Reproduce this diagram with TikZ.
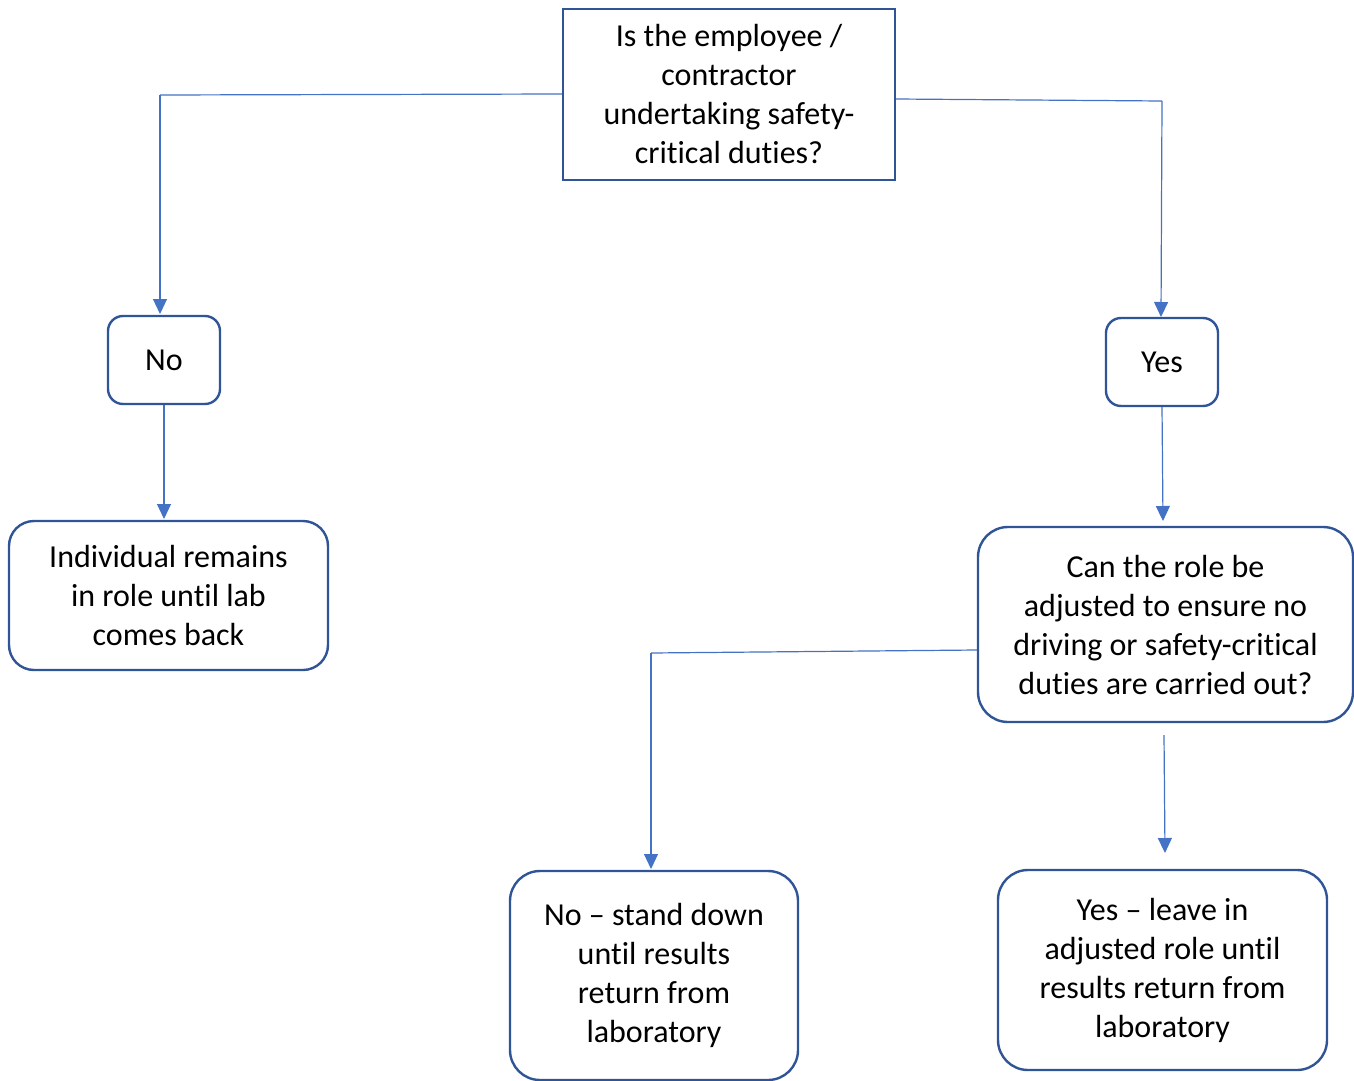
\documentclass[tikz,border=0pt]{standalone}
\usepackage{fontspec}
\setmainfont[Ligatures={NoCommon}]{Carlito}
\usetikzlibrary{arrows.meta}
\definecolor{boxblue}{HTML}{2F5597}
\definecolor{lineblue}{HTML}{4472C4}
\begin{document}
\begin{tikzpicture}[x=1pt,y=-1pt,
  every node/.style={font=\fontsize{32}{39}\selectfont, align=center, inner sep=0pt},
  sqbox/.style={draw=boxblue, line width=2.4pt},
  rbox/.style={draw=boxblue, line width=2.4pt, rounded corners=#1},
  conn/.style={draw=lineblue, line width=1.2pt},
  arr/.style={conn, -{Triangle[width=14pt,length=15pt]}}]
\useasboundingbox (0,0) rectangle (1354,1081);
\node[sqbox, minimum width=332pt, minimum height=171pt] (q) at (729,94.5) {Is the employee /\\contractor\\undertaking safety-\\critical duties?};
\node[rbox=15pt, minimum width=112pt, minimum height=88pt] (no) at (164,360) {No};
\node[rbox=15pt, minimum width=112pt, minimum height=88pt] (yes) at (1162,362) {Yes};
\node[rbox=25pt, minimum width=319pt, minimum height=149pt] (ind) at (168.5,595.5) {Individual remains\\in role until lab\\comes back};
\node[rbox=30pt, minimum width=375pt, minimum height=195pt] (can) at (1165.5,624.5) {Can the role be\\adjusted to ensure no\\driving or safety-critical\\duties are carried out?};
\node[rbox=30pt, minimum width=288pt, minimum height=209pt] (sd) at (654,975.5) {No -- stand down\\until results\\return from\\laboratory};
\node[rbox=30pt, minimum width=329pt, minimum height=200pt] (ya) at (1162.5,970) {Yes -- leave in\\adjusted role until\\results return from\\laboratory};
\coordinate (c1) at (160,95);
\coordinate (c2) at (1162,101);
\coordinate (c3) at (651,653);
\coordinate (s4) at (1164,735);
\coordinate (e4) at (1165,853);
\draw[conn] (q.west |- 0,94) -- (c1);
\draw[arr] (c1) -- (160,314);
\draw[conn] (q.east |- 0,99) -- (c2);
\draw[arr] (c2) -- (1161,317);
\draw[arr] (no.south) -- (164,519);
\draw[arr] (yes.south) -- (1163,521);
\draw[conn] (can.west |- 0,650) -- (c3);
\draw[arr] (c3) -- (651,869);
\draw[arr] (s4) -- (e4);
\end{tikzpicture}
\end{document}
